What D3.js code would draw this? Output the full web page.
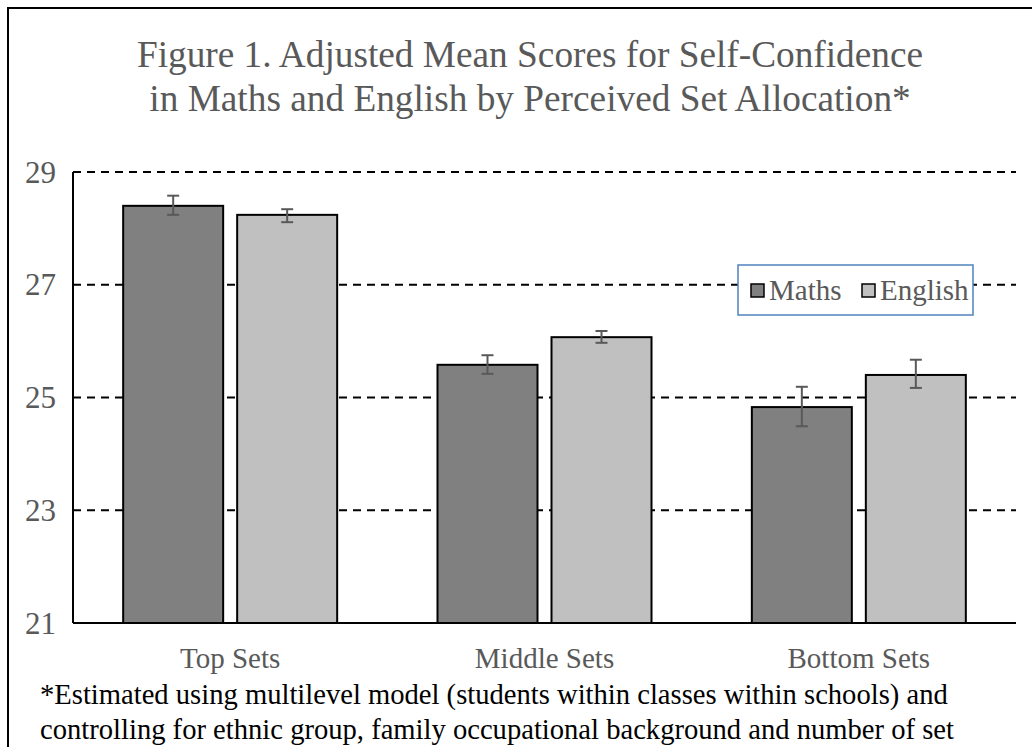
<!DOCTYPE html>
<html><head><meta charset="utf-8">
<script src="https://cdn.jsdelivr.net/npm/d3@7"></script>
<style>body{margin:0;background:#fff}svg{display:block}</style>
</head><body>
<svg id="c" width="1032" height="747"></svg>
<script>
const categories = ["Top Sets", "Middle Sets", "Bottom Sets"];
const seriesNames = ["Maths", "English"];
const mathsValues = [28.40, 25.58, 24.83];
const englishValues = [28.24, 26.07, 25.40];
const mathsLow = [28.24, 25.42, 24.49];
const mathsHigh = [28.58, 25.75, 25.19];
const englishLow = [28.11, 25.97, 25.17];
const englishHigh = [28.34, 26.18, 25.67];
const yTicks = [21, 23, 25, 27, 29];
const titleLines = ["Figure 1. Adjusted Mean Scores for Self-Confidence", "in Maths and English by Perceived Set Allocation*"];
const footLines = ["*Estimated using multilevel model (students within classes within schools) and", "controlling for ethnic group, family occupational background and number of set"];

const colors = {Maths: "#808080", English: "#c0c0c0"};
const svg = d3.select("#c");
const FONT = '"Liberation Serif", "Times New Roman", Tinos, serif';
const grey = "#595959";

// outer border
svg.append("rect").attr("x", 8).attr("y", 8).attr("width", 1040).attr("height", 760)
  .attr("fill", "none").attr("stroke", "#000").attr("stroke-width", 2);

const pL = 73, pR = 1016, pT = 172, pB = 623;
const y = d3.scaleLinear().domain([21, 29]).range([pB, pT]);
const x = d3.scaleBand().domain(categories).range([pL, pR]);
const barW = 100, gap = 14, grpW = 2 * barW + gap;
const xs = d3.scaleBand().domain(seriesNames).range([0, grpW]).paddingInner(gap / (barW + gap));

// title
svg.append("g").selectAll("text").data(titleLines).join("text")
  .attr("x", 530).attr("y", (d, i) => 67 + i * 44)
  .attr("text-anchor", "middle").style("font-family", FONT).style("font-size", "37.3px")
  .attr("fill", grey).text(d => d);

// gridlines
svg.append("g").selectAll("line").data(yTicks.filter(t => t > 21)).join("line")
  .attr("x1", pL).attr("x2", pR).attr("y1", d => y(d)).attr("y2", d => y(d))
  .attr("stroke", "#000").attr("stroke-width", 2).attr("stroke-dasharray", "8,6");

// y tick labels
svg.append("g").selectAll("text").data(yTicks).join("text")
  .attr("x", 56).attr("y", d => y(d)).attr("dy", "0.34em")
  .attr("text-anchor", "end").style("font-family", FONT).style("font-size", "31px")
  .attr("fill", grey).text(d => d);

const data = categories.map((c, i) => ({
  cat: c,
  bars: [
    {s: "Maths", v: mathsValues[i], lo: mathsLow[i], hi: mathsHigh[i]},
    {s: "English", v: englishValues[i], lo: englishLow[i], hi: englishHigh[i]}
  ]
}));

const groups = svg.append("g").selectAll("g").data(data).join("g")
  .attr("transform", d => `translate(${x(d.cat) + (x.bandwidth() - grpW) / 2},0)`);

groups.selectAll("rect").data(d => d.bars).join("rect")
  .attr("x", d => xs(d.s)).attr("width", xs.bandwidth())
  .attr("y", d => y(d.v)).attr("height", d => y(21) - y(d.v))
  .attr("fill", d => colors[d.s]).attr("stroke", "#000").attr("stroke-width", 2);

const eb = groups.selectAll("g.eb").data(d => d.bars).join("g").attr("class", "eb")
  .attr("stroke", grey).attr("stroke-width", 2);
const cx = d => xs(d.s) + xs.bandwidth() / 2;
eb.append("line").attr("x1", cx).attr("x2", cx)
  .attr("y1", d => y(d.lo)).attr("y2", d => y(d.hi));
eb.append("line").attr("x1", d => cx(d) - 6).attr("x2", d => cx(d) + 6)
  .attr("y1", d => y(d.lo)).attr("y2", d => y(d.lo));
eb.append("line").attr("x1", d => cx(d) - 6).attr("x2", d => cx(d) + 6)
  .attr("y1", d => y(d.hi)).attr("y2", d => y(d.hi));

// axes lines
svg.append("line").attr("x1", pL).attr("x2", pL).attr("y1", pT).attr("y2", pB)
  .attr("stroke", "#000").attr("stroke-width", 2);
svg.append("line").attr("x1", pL).attr("x2", pR).attr("y1", pB).attr("y2", pB)
  .attr("stroke", "#000").attr("stroke-width", 2);

// category labels
svg.append("g").selectAll("text").data(categories).join("text")
  .attr("x", d => x(d) + x.bandwidth() / 2).attr("y", 668)
  .attr("text-anchor", "middle").style("font-family", FONT).style("font-size", "29px")
  .attr("fill", grey).text(d => d);

// footnote
svg.append("g").selectAll("text").data(footLines).join("text")
  .attr("x", 40).attr("y", (d, i) => 704 + i * 35)
  .style("font-family", FONT).style("font-size", "28.6px").attr("fill", "#000").text(d => d);

// legend
const lg = svg.append("g").attr("transform", "translate(738,265)");
lg.append("rect").attr("width", 235).attr("height", 50).attr("fill", "#fff")
  .attr("stroke", "#4f81bd").attr("stroke-width", 1.5);
const items = lg.selectAll("g").data(seriesNames).join("g")
  .attr("transform", (d, i) => `translate(${i === 0 ? 13 : 124},0)`);
items.append("rect").attr("x", 0).attr("y", 19).attr("width", 13).attr("height", 13)
  .attr("fill", d => colors[d]).attr("stroke", "#000").attr("stroke-width", 1.5);
items.append("text").attr("x", 18).attr("y", 35).style("font-family", FONT).style("font-size", "29px")
  .attr("fill", grey).text(d => d);
</script>
</body></html>
